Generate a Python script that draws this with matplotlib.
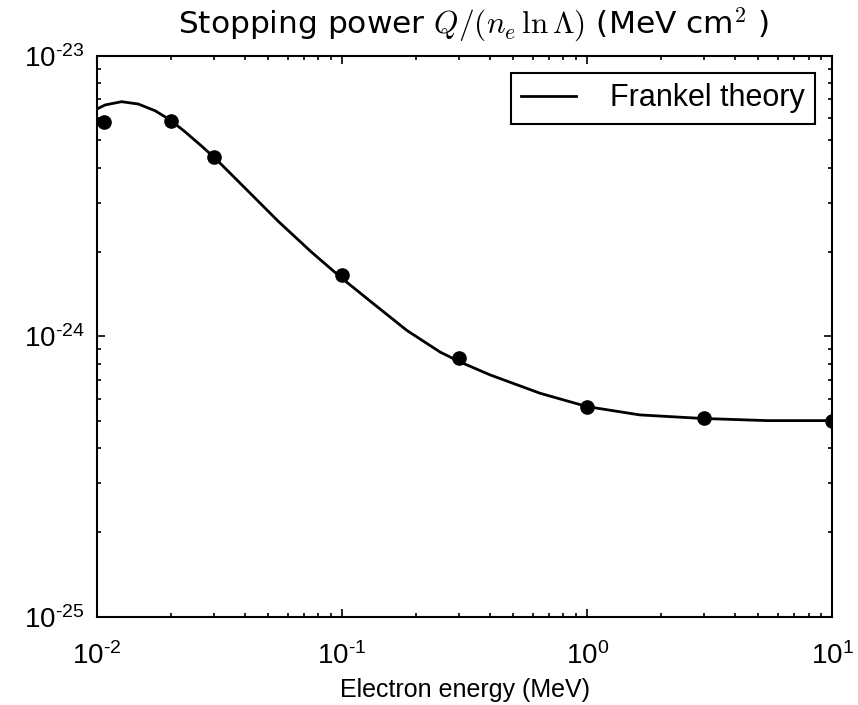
import matplotlib
matplotlib.use('Agg')
import matplotlib.pyplot as plt
import numpy as np
from matplotlib.ticker import FuncFormatter

plt.rcParams['font.family'] = ['Liberation Sans', 'DejaVu Sans']
plt.rcParams['mathtext.fontset'] = 'cm'

# measured stopping power (MeV cm^2)
energy = [0.0107, 0.02, 0.03, 0.1, 0.3, 1.0, 3.0, 10.0]
stopping = [5.82e-24, 5.88e-24, 4.36e-24, 1.65e-24, 8.36e-25, 5.62e-25, 5.10e-25, 5.01e-25]

# Frankel theory curve
theory_e = [0.01, 0.0108, 0.0126, 0.01475, 0.01726, 0.01986, 0.02286, 0.02674,
            0.0305, 0.0402, 0.055, 0.0752, 0.1, 0.134, 0.184, 0.251, 0.303,
            0.402, 0.643, 1.0, 1.64, 2.94, 5.41, 10.0]
theory_q = [6.47e-24, 6.69e-24, 6.87e-24, 6.74e-24, 6.38e-24, 5.92e-24, 5.37e-24,
            4.77e-24, 4.30e-24, 3.38e-24, 2.57e-24, 1.995e-24, 1.61e-24, 1.31e-24,
            1.05e-24, 8.80e-25, 8.11e-25, 7.29e-25, 6.27e-25, 5.62e-25, 5.25e-25,
            5.10e-25, 5.01e-25, 5.01e-25]


def decade(v, pos):
    # old-style labels: short hyphen in the exponent
    e = int(round(np.log10(v)))
    s = str(e).replace('-', '\u2010')
    return r'$\mathdefault{10^{%s}}$' % s


fig, ax = plt.subplots(figsize=(8.58, 7.05), dpi=100)
fig.subplots_adjust(left=0.113, right=0.970, bottom=0.125, top=0.9206)

ax.plot(theory_e, theory_q, 'k-', lw=2, label='Frankel theory')
ax.plot(energy, stopping, 'ko', ms=9.5)

ax.set_xscale('log')
ax.set_yscale('log')
ax.set_xlim(1e-2, 1e1)
ax.set_ylim(1e-25, 1e-23)
ax.xaxis.set_major_formatter(FuncFormatter(decade))
ax.yaxis.set_major_formatter(FuncFormatter(decade))

ax.set_title(r'Stopping power $Q/(n_e\,\ln\Lambda)$ (MeV cm$^2$ )',
             fontsize=22.5, family='DejaVu Sans', pad=16, x=0.512)
ax.set_xlabel('Electron energy (MeV)', fontsize=18, labelpad=6)

for s in ax.spines.values():
    s.set_linewidth(1.5)
ax.tick_params(which='both', direction='in', top=True, right=True, width=1.2)
ax.tick_params(which='major', length=6, labelsize=20, pad=9)
ax.tick_params(axis='x', which='major', pad=18)
ax.tick_params(which='minor', length=3)

leg = ax.legend(loc='upper right', fontsize=22, handlelength=1.8,
                handletextpad=1.1, fancybox=False, borderpad=0.35,
                borderaxespad=0.55)
leg.get_frame().set_edgecolor('k')
leg.get_frame().set_linewidth(1.5)
leg.get_frame().set_alpha(1)

fig.savefig('out.png', dpi=100)
